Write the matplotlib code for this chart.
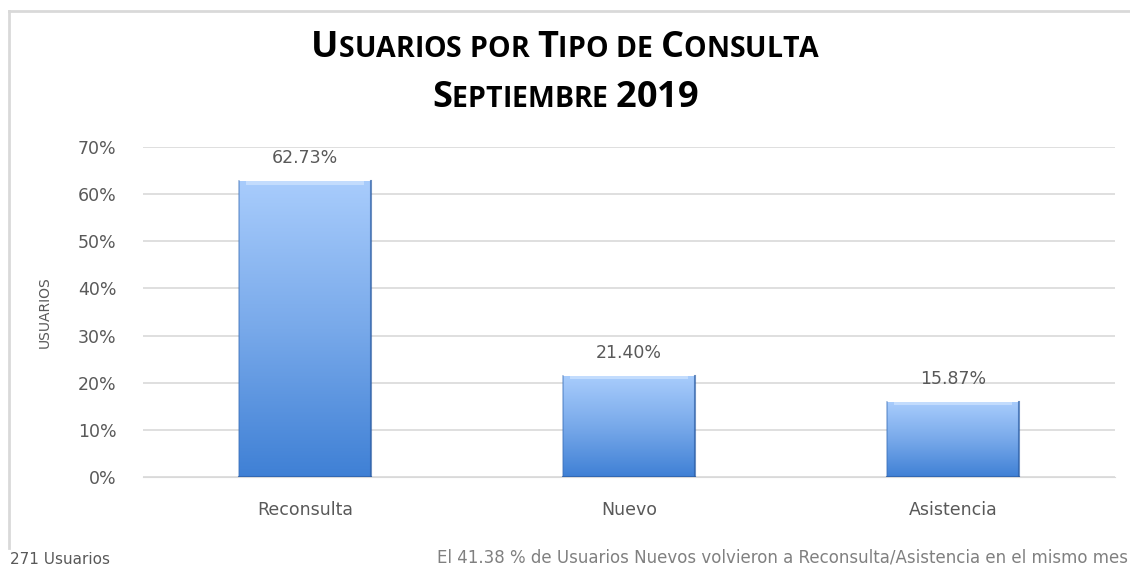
import numpy as np
import matplotlib
matplotlib.use("Agg")
import matplotlib.pyplot as plt
from matplotlib.colors import LinearSegmentedColormap
from matplotlib.lines import Line2D

categories = ["Reconsulta", "Nuevo", "Asistencia"]
values = [62.73, 21.40, 15.87]
yticks = [0, 10, 20, 30, 40, 50, 60, 70]
title1 = "Usuarios por Tipo de Consulta"
title2 = "Septiembre 2019"
ylabel = "USUARIOS"
footer_left = "271 Usuarios"
footer_right = "El 41.38 % de Usuarios Nuevos volvieron a Reconsulta/Asistencia en el mismo mes"

GRAY = "#595959"
TOP = "#a8ccfc"
MID = "#78a9ea"
BOT = "#3f80d5"

fig = plt.figure(figsize=(11.3, 5.71), dpi=100)
ax = fig.add_axes([143 / 1130, 94 / 571, 972 / 1130, 330 / 571])

x = np.arange(len(categories))
bw = 0.407
bars = ax.bar(x, values, width=bw, color="none", zorder=3)

cmap = LinearSegmentedColormap.from_list("bar", [BOT, MID, TOP])
grad = np.linspace(0, 1, 256).reshape(-1, 1)
for b in bars:
    x0, w, h = b.get_x(), b.get_width(), b.get_height()
    ax.imshow(grad, extent=(x0, x0 + w, 0, h), origin="lower", cmap=cmap,
              aspect="auto", zorder=3, interpolation="bicubic")
    # bevel: light top edge, darker sides
    ax.fill_between([x0 + 0.02, x0 + w - 0.02], h - 0.7, h, color="#cfe4ff", alpha=0.7, zorder=4, lw=0)
    ax.plot([x0, x0], [0, h], color="#3a6fb8", lw=1.2, alpha=0.5, zorder=5)
    ax.plot([x0 + w, x0 + w], [0, h], color="#2d5ea5", lw=1.5, alpha=0.7, zorder=5)
    ax.plot([x0, x0 + w], [0, 0], color="#2d5ea5", lw=1.5, alpha=0.7, zorder=5)
    ax.text(x0 + w / 2, h + 5.0, f"{h:.2f}%", ha="center", va="center",
            fontsize=12.5, color=GRAY, zorder=6)

ax.set_xlim(-0.5, 2.5)
ax.set_ylim(0, 70)
ax.set_yticks(yticks)
ax.set_yticklabels([f"{t}%" for t in yticks], fontsize=12.5, color=GRAY)
ax.set_xticks(x)
ax.set_xticklabels(categories, fontsize=12.5, color=GRAY)
ax.tick_params(length=0)
ax.tick_params(axis="y", pad=19)
ax.tick_params(axis="x", pad=17)
ax.grid(axis="y", color="#d9d9d9", lw=1.2, zorder=0)
for s in ax.spines.values():
    s.set_visible(False)
ax.spines["bottom"].set_visible(True)
ax.spines["bottom"].set_color("#d9d9d9")

fig.text(45 / 1130, 1 - 312 / 571, ylabel, rotation=90, ha="center", va="center",
         fontsize=10, color=GRAY)

# chart border (top and left visible)
fig.add_artist(Line2D([9 / 1130, 1], [1 - 11 / 571, 1 - 11 / 571], color="#d9d9d9", lw=2))
fig.add_artist(Line2D([9 / 1130, 9 / 1130], [1 - 11 / 571, 1 - 548 / 571], color="#d9d9d9", lw=2))

fig.text(10 / 1130, 1 - 560 / 571, footer_left, ha="left", va="center",
         fontsize=11, color=GRAY)
fig.text(1128 / 1130, 1 - 557 / 571, footer_right, ha="right", va="center",
         fontsize=12, color="#808080")


def small_caps(text, yc, big, small):
    # draw title with small caps, centred at x=0.5
    pieces = []
    for word_i, word in enumerate(text.split(" ")):
        if word_i > 0:
            pieces.append((" ", small))
        for ch in word:
            if ch.isupper() or ch.isdigit():
                pieces.append((ch, big))
            else:
                pieces.append((ch.upper(), small))
    fig.canvas.draw()
    r = fig.canvas.get_renderer()
    objs = []
    for ch, fs in pieces:
        t = fig.text(0, yc, ch, fontsize=fs, fontweight="bold", family="Open Sans",
                     ha="left", va="baseline", color="black")
        objs.append(t)
    widths = []
    for t in objs:
        bb = t.get_window_extent(renderer=r)
        w = bb.width
        if t.get_text() == " ":
            w = small * 0.28 * 100 / 72
        widths.append(w / fig.bbox.width)
    total = sum(widths)
    xpos = 0.5 - total / 2
    for t, w in zip(objs, widths):
        t.set_x(xpos)
        xpos += w


small_caps(title1, 1 - 57 / 571, 26, 20.5)
small_caps(title2, 1 - 107 / 571, 26, 20.5)

fig.savefig("out.png", dpi=100)
